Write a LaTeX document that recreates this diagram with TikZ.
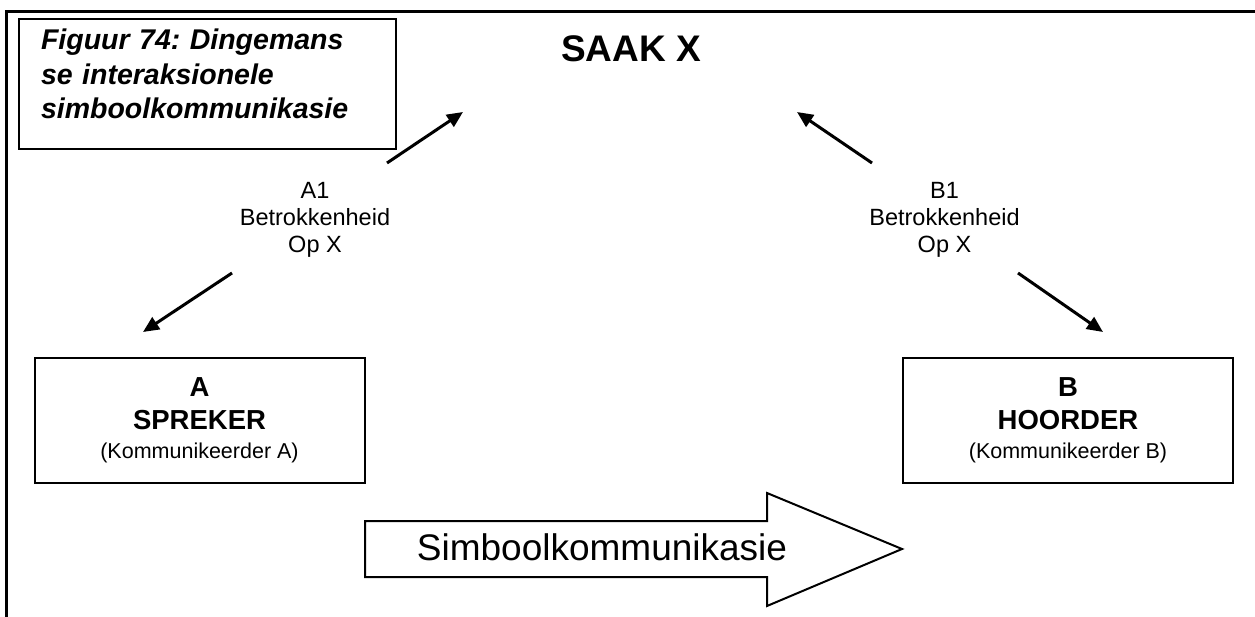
\documentclass[tikz,border=0pt]{standalone}
\usepackage{fontspec}
\setmainfont{Liberation Sans}
\usetikzlibrary{arrows.meta,positioning}
\frenchspacing

\begin{document}
\begin{tikzpicture}[
  x=1pt, y=-1pt,
  box/.style={draw, line width=2pt, align=center, minimum width=330pt, minimum height=125pt, font=\bfseries\fontsize{27.5}{33}\selectfont},
  titlebox/.style={draw, line width=2pt, align=left, anchor=north west, text width=333pt, inner xsep=22pt, inner ysep=0pt, text height=31pt, text depth=99pt, font=\bfseries\itshape\fontsize{28.5}{34.5}\selectfont},
  lbl/.style={align=center, font=\fontsize{23.5}{27}\selectfont},
  arrow/.style={-{Triangle[length=16pt,width=14pt]}, line width=3pt},
  bigarrow/.style={draw, line width=2pt, line join=miter}
]
\useasboundingbox (0,0) rectangle (1255,617);
\draw[line width=3.5pt] (6.5,617) -- (6.5,11.5) -- (1255,11.5);
\node[titlebox] (fig) at (18,18) {Figuur 74: Dingemans\\se interaksionele\\simboolkommunikasie};
\node[font=\bfseries\fontsize{37}{44}\selectfont] (saak) at (631,49) {SAAK X};
\node[box] (spk) at (199.5,420.5) {A\\SPREKER\\[-4pt]{\mdseries\fontsize{21.5}{26}\selectfont(Kommunikeerder A)}};
\node[box] (hrd) at (1068,420.5) {B\\HOORDER\\[-4pt]{\mdseries\fontsize{21.5}{26}\selectfont(Kommunikeerder B)}};
\node[lbl] (a1) at (315,220) {A1\\Betrokkenheid\\Op X};
\node[lbl] (b1) at (944.5,220) {B1\\Betrokkenheid\\Op X};
\coordinate (a1u) at (387,163);
\coordinate (a1saak) at (463,112);
\coordinate (a1d) at (232,273);
\coordinate (a1spk) at (143,332);
\coordinate (b1u) at (872,163);
\coordinate (b1saak) at (797,112);
\coordinate (b1d) at (1018,273);
\coordinate (b1hrd) at (1103,332);
\draw[arrow] (a1u) -- (a1saak);
\draw[arrow] (a1d) -- (a1spk);
\draw[arrow] (b1u) -- (b1saak);
\draw[arrow] (b1d) -- (b1hrd);
\draw[bigarrow] (365,521) -- (767,521) -- (767,493) -- (902,549) -- (767,606) -- (767,577) -- (365,577) -- cycle;
\node[font=\fontsize{37}{44}\selectfont] (simb) at (602,547) {Simboolkommunikasie};
\end{tikzpicture}
\end{document}
